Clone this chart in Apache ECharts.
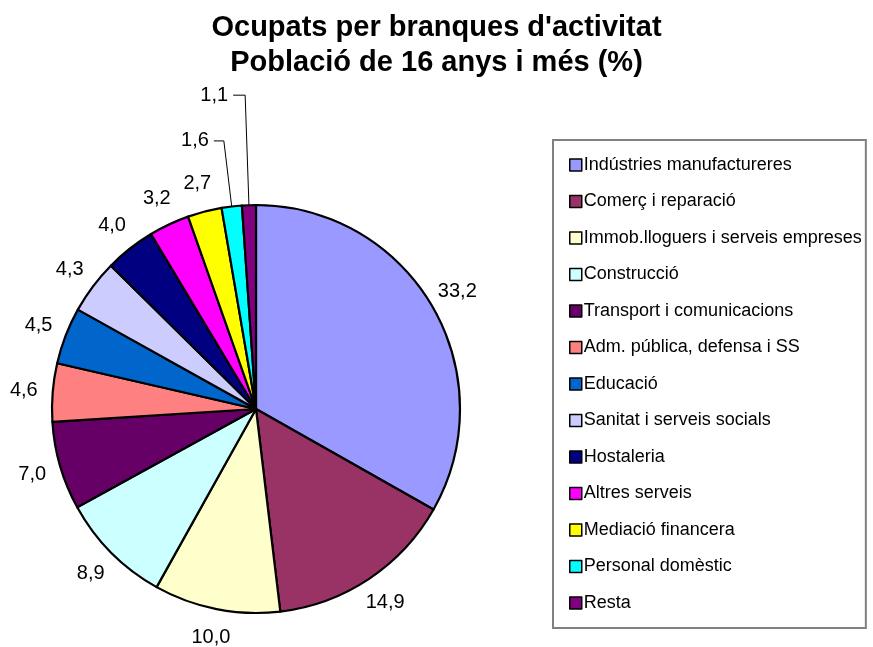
<!DOCTYPE html>
<html><head><meta charset="utf-8">
<script src="https://cdn.jsdelivr.net/npm/echarts@6/dist/echarts.min.js"></script>
<style>html,body{margin:0;padding:0;background:#fff}#c{width:873px;height:647px}</style>
</head><body><div id="c"></div>
<script>
const categories = ["Indústries manufactureres","Comerç i reparació","Immob.lloguers i serveis empreses","Construcció","Transport i comunicacions","Adm. pública, defensa i SS","Educació","Sanitat i serveis socials","Hostaleria","Altres serveis","Mediació financera","Personal domèstic","Resta"];
const values = [33.2,14.9,10.0,8.9,7.0,4.6,4.5,4.3,4.0,3.2,2.7,1.6,1.1];
const colors = ["#9999FF","#993366","#FFFFCC","#CCFFFF","#660066","#FF8080","#0066CC","#CCCCFF","#000080","#FF00FF","#FFFF00","#00FFFF","#800080"];
const titleLines = ["Ocupats per branques d'activitat","Població de 16 anys i més (%)"];

const FONT = 'Liberation Sans, Arial, sans-serif';
const fmt = v => v.toFixed(1).replace('.', ',');
const leader = {11:{length:66, length2:10}, 12:{length:110, length2:12}};

const mainData = categories.map((n,i)=>{
  const d = {name:n, value:values[i], itemStyle:{color:colors[i]}};
  if (leader[i]) {
    d.label = {show:true, position:'outside'};
    d.labelLine = Object.assign({show:true}, leader[i]);
  }
  return d;
});
const ringData = categories.map((n,i)=>({name:n, value:values[i], label:{show:!leader[i]}}));

const chart = echarts.init(document.getElementById('c'), null, {renderer:'canvas'});
chart.setOption({
  animation:false,
  title:{text:titleLines.join('\n'), left:'center', top:5,
    textStyle:{fontFamily:FONT, fontSize:29, fontWeight:'bold', color:'#000', lineHeight:35}},
  legend:{orient:'vertical', left:553, top:140, itemWidth:12, itemHeight:12, itemGap:18.5,
    data:categories,
    padding:[16,4,16,16], borderColor:'#808080', borderWidth:2, icon:'rect',
    textStyle:{fontFamily:FONT, fontSize:18, color:'#000', lineHeight:18, padding:[0,0,0,-3]},
    itemStyle:{borderColor:'#000', borderWidth:1.5}},
  series:[
   {type:'pie', name:'main', center:[256,409], radius:204, startAngle:90, clockwise:true,
    avoidLabelOverlap:false, data:mainData,
    itemStyle:{borderColor:'#000', borderWidth:2.2},
    label:{show:false, formatter:p=>fmt(p.value), fontFamily:FONT, fontSize:20, color:'#000'},
    labelLine:{show:false, smooth:false, lineStyle:{color:'#000', width:1}},
    emphasis:{disabled:true}
   },
   {type:'pie', name:'labels', center:[256,409], radius:[206,254], startAngle:90, clockwise:true,
    avoidLabelOverlap:false, silent:true, data:ringData, legendHoverLink:false,
    itemStyle:{color:'rgba(0,0,0,0)', borderWidth:0},
    label:{position:'inside', formatter:p=>fmt(p.value), fontFamily:FONT, fontSize:20, color:'#000', rotate:0},
    labelLine:{show:false},
    emphasis:{disabled:true}
   }]
});
</script></body></html>
